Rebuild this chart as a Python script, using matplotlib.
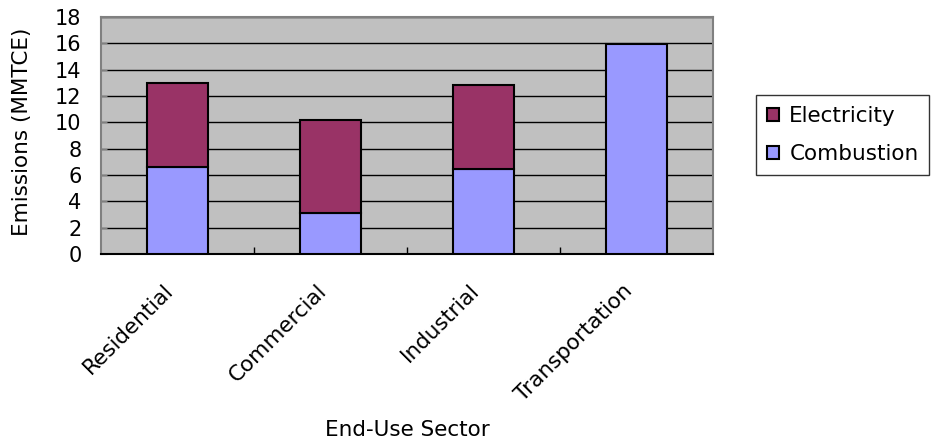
import matplotlib
matplotlib.use("Agg")
import matplotlib.pyplot as plt
import numpy as np

plt.rcParams['font.family'] = ['DejaVu Sans']

sectors = ["Residential", "Commercial", "Industrial", "Transportation"]
combustion = [6.6, 3.1, 6.45, 15.95]
electricity = [6.4, 7.07, 6.4, 0.0]
yticks = [0, 2, 4, 6, 8, 10, 12, 14, 16, 18]

fig = plt.figure(figsize=(9.38, 4.46), dpi=100)
ax = fig.add_axes([101/938, 1-254/446, 612/938, 237/446])
ax.set_facecolor("#C0C0C0")

x = np.arange(len(sectors))
w = 0.4
b1 = ax.bar(x, combustion, w, color="#9999FF", edgecolor="black", linewidth=1.5,
            label="Combustion", zorder=3)
b2 = ax.bar(x, electricity, w, bottom=combustion, color="#993366", edgecolor="black",
            linewidth=1.5, label="Electricity", zorder=3)
for rect, v in zip(b2, electricity):
    if v == 0:
        rect.set_visible(False)

ax.set_xlim(-0.5, len(sectors) - 0.5)
ax.set_ylim(0, 18)
ax.set_yticks(yticks)
ax.set_yticklabels([str(t) for t in yticks], fontsize=15)
ax.yaxis.grid(True, color="black", linewidth=1.0, zorder=1)
ax.set_axisbelow(True)

ax.set_xticks(x)
ax.set_xticklabels(sectors, rotation=45, ha="right", fontsize=15.5)
ax.tick_params(axis="x", length=0, pad=19)
ax.set_xticks(np.arange(0.5, len(sectors) - 0.5, 1), minor=True)
ax.tick_params(axis="x", which="minor", direction="in", length=5, color="black", width=1)
ax.tick_params(axis="y", direction="in", length=4, color="#808080", pad=14)

for s in ["top", "right", "left"]:
    ax.spines[s].set_color("#808080")
    ax.spines[s].set_linewidth(1.5)
ax.spines["bottom"].set_color("black")
ax.spines["bottom"].set_linewidth(1.5)

ax.set_ylabel("Emissions (MMTCE)", fontsize=15.5)
ax.yaxis.label.set_va("center")
ax.yaxis.set_label_coords((22 - 101) / 612, 0.515)
ax.set_xlabel("End-Use Sector", fontsize=15.5)
ax.xaxis.label.set_va("center")
ax.xaxis.set_label_coords(0.5, (254 - 430) / 237)

handles = [b2, b1]
leg = ax.legend(handles, ["Electricity", "Combustion"], loc="upper left",
                bbox_to_anchor=(756/938, 1-95/446), bbox_transform=fig.transFigure,
                fontsize=15.5, frameon=True, fancybox=False, edgecolor="black",
                handlelength=0.55, handleheight=0.55, handletextpad=0.5,
                borderpad=0.5, labelspacing=0.85, borderaxespad=0)
leg.get_frame().set_linewidth(1.0)

fig.savefig("out.png", dpi=100)
